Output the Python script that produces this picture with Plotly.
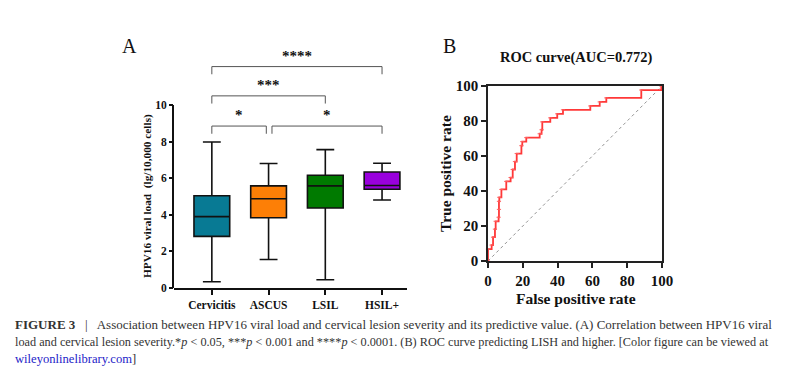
import plotly.graph_objects as go

# ---------------- data ----------------
categories = ["Cervicitis", "ASCUS", "LSIL", "HSIL+"]
q1 = [2.82, 3.84, 4.37, 5.40]
medians = [3.90, 4.88, 5.58, 5.60]
q3 = [5.04, 5.58, 6.16, 6.34]
lower_fence = [0.34, 1.56, 0.45, 4.81]
upper_fence = [7.98, 6.80, 7.56, 6.82]
box_colors = ["#087a94", "#fd7f06", "#007a00", "#9900dd"]

sig_pairs = [(0, 1), (1, 3), (0, 2), (0, 3)]
sig_labels = ["*", "*", "***", "****"]
sig_levels = [8.85, 8.85, 10.5, 12.1]

roc_fpr = [0, 0, 2.1, 2.9, 4.0, 4.4, 6.1, 6.3, 6.3, 6.5, 7.7, 10.5, 13.0, 14.2,
           15.5, 16.5, 19.2, 19.7, 22.0, 29.7, 30.8, 31.2, 35.8, 39.8, 43.1,
           58.8, 64.2, 68.0, 88.1, 99.6]
roc_tpr = [0, 6.8, 9.1, 13.6, 18.2, 22.7, 25.0, 29.5, 34.1, 36.4, 40.9, 45.5,
           47.7, 52.3, 56.8, 61.4, 65.9, 68.2, 70.5, 72.7, 75.0, 79.5, 81.8,
           84.1, 86.4, 88.6, 90.9, 93.2, 97.7, 100]
roc_title = "ROC curve(AUC=0.772)"

W, H = 790, 373
OFF = 8  # page body margin offset
def px(x):
    return (x - OFF) / W
def py(y):
    return 1 - (y - OFF) / H

SERIF = "Liberation Serif"

fig = go.Figure()

# ---------------- panel A: boxes ----------------
for i, cat in enumerate(categories):
    fig.add_trace(go.Box(
        x=[i], q1=[q1[i]], median=[medians[i]], q3=[q3[i]],
        lowerfence=[lower_fence[i]], upperfence=[upper_fence[i]],
        fillcolor=box_colors[i], line=dict(color="#111111", width=1.6),
        width=0.63, whiskerwidth=0.5, boxpoints=False, name=cat,
        showlegend=False, xaxis="x", yaxis="y"))

shapes = []
# y-axis line only from 0 to 10
shapes.append(dict(type="line", xref="paper", yref="y", x0=px(173), x1=px(173),
                   y0=0, y1=10, line=dict(color="#111111", width=2)))
annotations = []
leg = 0.42
for (a, b), lvl, lab in zip(sig_pairs, sig_levels, sig_labels):
    xa = a + (0.06 if a == 1 else 0)
    xb = b - (0.04 if (a == 0 and b == 1) else 0)
    shapes.append(dict(type="path", xref="x", yref="y",
                       path=f"M {xa},{lvl-leg} L {xa},{lvl} L {xb},{lvl} L {xb},{lvl-leg}",
                       line=dict(color="#555555", width=1)))
    annotations.append(dict(x=(xa + xb) / 2, y=lvl + 0.05, xref="x", yref="y",
                            text=f"<b>{lab}</b>", showarrow=False,
                            xanchor="center", yanchor="bottom",
                            font=dict(family=SERIF, size=15, color="#111111")))

def label(x, y, text, size, angle=0, anchor="center"):
    annotations.append(dict(x=px(x), y=py(y), xref="paper", yref="paper", text=text,
                            textangle=angle, showarrow=False, xanchor=anchor,
                            yanchor="middle", font=dict(family=SERIF, size=size,
                                                        color="#111111")))

label(147, 196, "<b>HPV16 viral load  (lg/10,000 cells)</b>", 11.3, angle=-90)
label(130, 46, "A", 20)
label(449, 46, "B", 20)
label(576, 58, f"<b>{roc_title}</b>", 14.5)
label(576, 298, "<b>False positive rate</b>", 15.5)
label(445, 173, "<b>True positive rate</b>", 15.5, angle=-90)

# ---------------- panel B: ROC ----------------
fig.add_trace(go.Scatter(x=[0, 100], y=[0, 100], mode="lines",
                         line=dict(color="#777777", width=0.8, dash="dot"),
                         showlegend=False, xaxis="x2", yaxis="y2"))
fig.add_trace(go.Scatter(x=roc_fpr, y=roc_tpr, mode="lines+markers",
                         line=dict(color="#ff3838", width=1.8, shape="hv"),
                         marker=dict(symbol="line-ew", size=3,
                                     line=dict(color="#ff6060", width=1)),
                         cliponaxis=False, showlegend=False, xaxis="x2", yaxis="y2"))

# ---------------- caption ----------------
cap_lines = [
    "<b>FIGURE 3</b>   |   Association between HPV16 viral load and cervical lesion severity and its predictive value. (A) Correlation between HPV16 viral",
    "load and cervical lesion severity.*<i>p</i> &lt; 0.05, ***<i>p</i> &lt; 0.001 and ****<i>p</i> &lt; 0.0001. (B) ROC curve predicting LISH and higher. [Color figure can be viewed at",
    "<span style='color:#2424c8'>wileyonlinelibrary.com</span>]",
]
cap_sizes = [13.0, 12.25, 12.6]
for t, yy, sz in zip(cap_lines, [324, 342, 359], cap_sizes):
    annotations.append(dict(x=px(13), y=py(yy), xref="paper", yref="paper", text=t,
                            xanchor="left", yanchor="middle", showarrow=False,
                            font=dict(family=SERIF, size=sz, color="#333333")))

tickfont_A = dict(family=SERIF, size=11.5, color="#111111", weight="bold")
tickfont_B = dict(family=SERIF, size=15, color="#111111", weight="bold")

fig.update_layout(
    width=W, height=H, margin=dict(l=0, r=0, t=0, b=0), autosize=False,
    paper_bgcolor="white", plot_bgcolor="white", showlegend=False,
    shapes=shapes, annotations=annotations,
    xaxis=dict(domain=[px(174), px(407)], range=[-0.667, 3.44], tickvals=[0, 1, 2, 3],
               ticktext=categories, showline=True, linewidth=2, linecolor="#111111",
               ticks="outside", ticklen=5, tickwidth=2, tickcolor="#111111",
               tickfont=tickfont_A, showgrid=False, zeroline=False, anchor="y",
               automargin=False),
    yaxis=dict(domain=[py(288), py(45)], range=[0, 13.28], tickvals=[0, 2, 4, 6, 8, 10],
               showline=False, ticks="outside", ticklen=4, tickwidth=2, tickcolor="#111111",
               tickfont=tickfont_A, showgrid=False, zeroline=False, anchor="x",
               automargin=False),
    xaxis2=dict(domain=[px(488), px(662)], range=[0, 100], tickvals=[0, 20, 40, 60, 80, 100],
                showline=True, mirror=True, linewidth=1.5, linecolor="#222222",
                ticks="outside", ticklen=5, tickwidth=1.5, tickcolor="#222222",
                tickfont=tickfont_B, showgrid=False, zeroline=False, anchor="y2",
                automargin=False),
    yaxis2=dict(domain=[py(261), py(86)], range=[0, 100], tickvals=[0, 20, 40, 60, 80, 100],
                showline=True, mirror=True, linewidth=1.5, linecolor="#222222",
                ticks="outside", ticklen=5, tickwidth=1.5, tickcolor="#222222",
                tickfont=tickfont_B, showgrid=False, zeroline=False, anchor="x2",
                automargin=False),
)

fig.write_html("out.html")
